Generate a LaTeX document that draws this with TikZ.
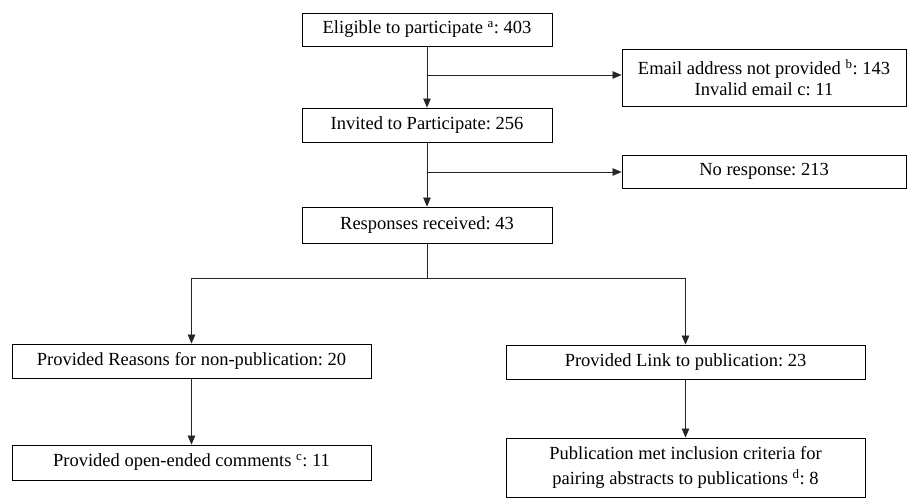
\documentclass[tikz,border=0pt]{standalone}
\usepackage{fontspec}
\setmainfont{Liberation Serif}
\usetikzlibrary{arrows.meta}
\begin{document}
\frenchspacing
\begin{tikzpicture}[x=1pt,y=-1pt,
  box/.style={draw=black,line width=0.9pt,inner sep=0pt,align=center,
    font=\fontsize{18.5}{20.5}\selectfont},
  conn/.style={draw=black!85,line width=0.7pt},
  arr/.style={conn,-{Triangle[length=9pt,width=7.5pt]}}]
\useasboundingbox (0,0) rectangle (909,500);
\node[box,minimum width=250pt,minimum height=33pt] (elig) at (427,29.5) {Eligible to participate \textsuperscript{a}: 403};
\node[box,minimum width=284pt,minimum height=57pt] (email) at (764,77.5) {Email address not provided \textsuperscript{b}: 143\\Invalid email c: 11};
\node[box,minimum width=250pt,minimum height=34pt] (inv) at (427,125) {Invited to Participate: 256};
\node[box,minimum width=284pt,minimum height=33pt] (nores) at (764,171.5) {No response: 213};
\node[box,minimum width=250pt,minimum height=36pt] (resp) at (427,225) {Responses received: 43};
\node[box,minimum width=359pt,minimum height=34pt] (reas) at (191.5,361) {Provided Reasons for non-publication: 20};
\node[box,minimum width=359pt,minimum height=34pt] (link) at (685.5,362) {Provided Link to publication: 23};
\node[box,minimum width=359pt,minimum height=35pt] (comm) at (191.5,462.5) {Provided open-ended comments \textsuperscript{c}: 11};
\node[box,minimum width=359pt,minimum height=59pt,font=\fontsize{18.5}{24.5}\selectfont] (crit) at (685.5,467.5) {Publication met inclusion criteria for\\pairing abstracts to publications \textsuperscript{d}: 8};
\coordinate (b1) at (427,75);
\coordinate (b2) at (427,172);
\coordinate (sp) at (427,278);
\draw[arr] (elig.south) -- (inv.north);
\draw[arr] (b1) -- (b1 -| email.west);
\draw[arr] (inv.south) -- (resp.north);
\draw[arr] (b2) -- (b2 -| nores.west);
\draw[conn] (resp.south) -- (sp);
\draw[arr] (sp) -| (reas.north);
\draw[arr] (sp) -| (link.north);
\draw[arr] (reas.south) -- (comm.north);
\draw[arr] (link.south) -- (crit.north);
\end{tikzpicture}
\end{document}
